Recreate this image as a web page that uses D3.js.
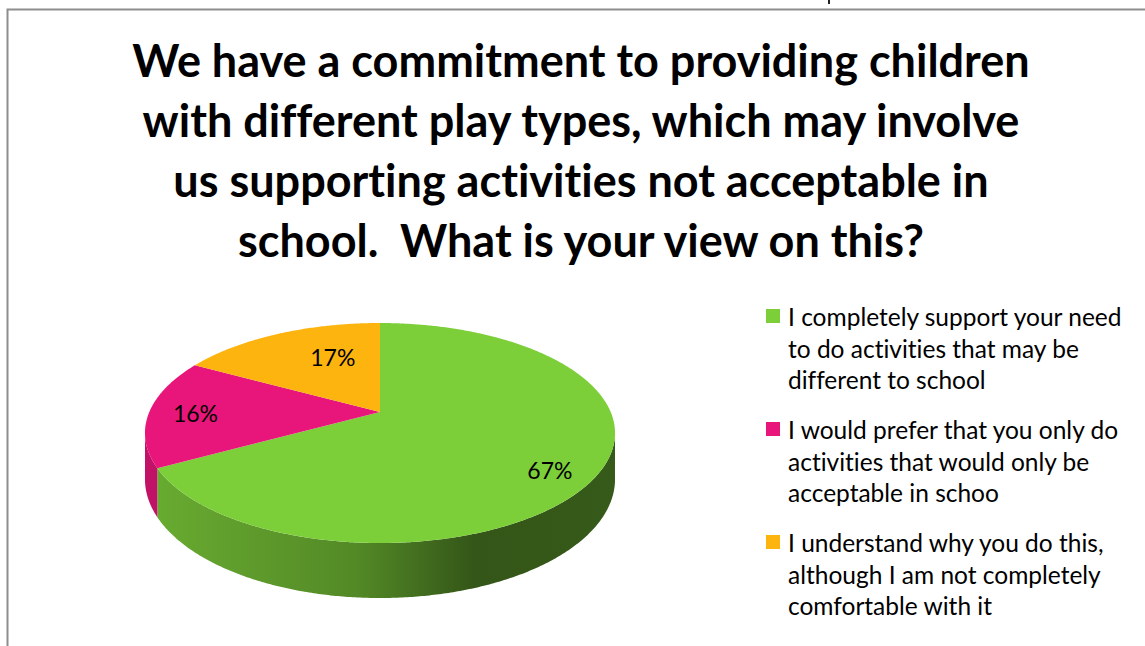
<!DOCTYPE html>
<html>
<head>
<meta charset="utf-8">
<script src="https://cdn.jsdelivr.net/npm/d3@7"></script>
<style>
  html, body { margin: 0; padding: 0; background: #ffffff; }
  svg { display: block; }
  text { font-variant-ligatures: none; font-feature-settings: "liga" 0, "clig" 0; }
</style>
</head>
<body>
<svg id="chart" width="1145" height="646"></svg>
<script>
// ---- data ----
const titleLines = [
  "We have a commitment to providing children",
  "with different play types, which may involve",
  "us supporting activities not acceptable in",
  "school.  What is your view on this?"
];
const legendLines = [
  ["I completely support your need", "to do activities that may be", "different to school"],
  ["I would prefer that you only do", "activities that would only be", "acceptable in schoo"],
  ["I understand why you do this,", "although I am not completely", "comfortable with it"]
];
const categories = legendLines.map(l => l.join(" "));
const values = [67, 16, 17];
const valueLabels = ["67%", "16%", "17%"];
const colors = ["#7dcf3a", "#e8167b", "#fdb40f"];

// ---- drawing ----
const svg = d3.select("#chart");
const FONT = "Lato, 'Open Sans', 'DejaVu Sans', sans-serif";

// chart frame (top and left edges)
svg.append("path")
  .attr("d", "M7.5,646 V9.5 H1145")
  .attr("fill", "none")
  .attr("stroke", "#8e8e8e")
  .attr("stroke-width", 2);

// small stroke poking in above the frame
svg.append("rect")
  .attr("x", 828).attr("y", 0)
  .attr("width", 2).attr("height", 4)
  .attr("fill", "#222");

// title
svg.append("text")
  .attr("font-family", FONT)
  .attr("font-weight", 700)
  .attr("font-size", 45)
  .attr("text-anchor", "middle")
  .attr("fill", "#000")
  .style("white-space", "pre")
  .selectAll("tspan")
  .data(titleLines)
  .join("tspan")
  .attr("x", 581)
  .attr("y", (d, i) => 77 + i * 60)
  .text(d => d);

// 3D pie: a tilted disc seen in perspective
const geo = { cx: 380, cy: 412, a: 230.7, b: 106, k: 0.191, depth: 44.5 };
function proj(theta, r, h) {
  const u = r * Math.sin(theta), v = r * Math.cos(theta);
  const w = 1 + geo.k * v;
  return [geo.cx + geo.a * u / w, geo.cy + (-geo.b * v + geo.depth * h) / w];
}
const thetaRight = Math.atan2(Math.sqrt(1 - geo.k * geo.k), -geo.k);
const thetaLeft = 2 * Math.PI - thetaRight;
const xLeft = proj(thetaLeft, 1, 0)[0], xRight = proj(thetaRight, 1, 0)[0];

const pie = d3.pie().sort(null).value(d => d);
const arcs = pie(values);
const line = d3.line();
const step = Math.PI / 360;

const defs = svg.append("defs");
arcs.forEach((d, i) => {
  const c = d3.color(colors[i]);
  const g = defs.append("linearGradient")
    .attr("id", "side" + i)
    .attr("gradientUnits", "userSpaceOnUse")
    .attr("x1", xLeft).attr("y1", 0).attr("x2", xRight).attr("y2", 0);
  [[0, 0.5], [0.45, 1.15], [0.7, 2.45], [1, 2.35]].forEach(([o, k]) => {
    g.append("stop").attr("offset", o).attr("stop-color", c.darker(k).formatHex());
  });
});

// side walls on the visible front half
const sides = svg.append("g");
arcs.forEach((d, i) => {
  const lo = Math.max(d.startAngle, thetaRight), hi = Math.min(d.endAngle, thetaLeft);
  if (lo >= hi) return;
  const ts = d3.range(lo, hi, step).concat([hi]);
  const pts = ts.map(t => proj(t, 1, 0)).concat(ts.slice().reverse().map(t => proj(t, 1, 1)));
  sides.append("path")
    .attr("d", line(pts) + "Z")
    .attr("fill", `url(#side${i})`);
});

// top faces
const tops = svg.append("g");
arcs.forEach((d, i) => {
  const ts = d3.range(d.startAngle, d.endAngle, step).concat([d.endAngle]);
  const pts = [proj(0, 0, 0)].concat(ts.map(t => proj(t, 1, 0)));
  tops.append("path")
    .attr("d", line(pts) + "Z")
    .attr("fill", colors[i]);
});

// data labels
const labelPlace = [{ r: 0.79, dy: 13 }, { r: 0.8, dy: 2 }, { r: 0.43, dy: -17 }];
svg.append("g")
  .selectAll("text")
  .data(arcs)
  .join("text")
  .attr("font-family", FONT)
  .attr("font-size", 23)
  .attr("text-anchor", "middle")
  .attr("fill", "#000")
  .each(function (d, i) {
    const mid = (d.startAngle + d.endAngle) / 2;
    const p = proj(mid, labelPlace[i].r, 0);
    d3.select(this).attr("x", p[0]).attr("y", p[1] + labelPlace[i].dy + 8);
  })
  .text((d, i) => valueLabels[i]);

// legend
const legend = svg.append("g").attr("font-family", FONT).attr("font-size", 24.5).attr("fill", "#000");
const item = legend.selectAll("g")
  .data(categories)
  .join("g")
  .attr("transform", (d, i) => `translate(766, ${326 + i * 113})`);
item.append("rect")
  .attr("x", 0).attr("y", -17)
  .attr("width", 14).attr("height", 14)
  .attr("fill", (d, i) => colors[i]);
item.append("text")
  .selectAll("tspan")
  .data((d, i) => legendLines[i])
  .join("tspan")
  .attr("x", 22)
  .attr("y", (d, j) => j * 31.5)
  .text(d => d);
</script>
</body>
</html>
